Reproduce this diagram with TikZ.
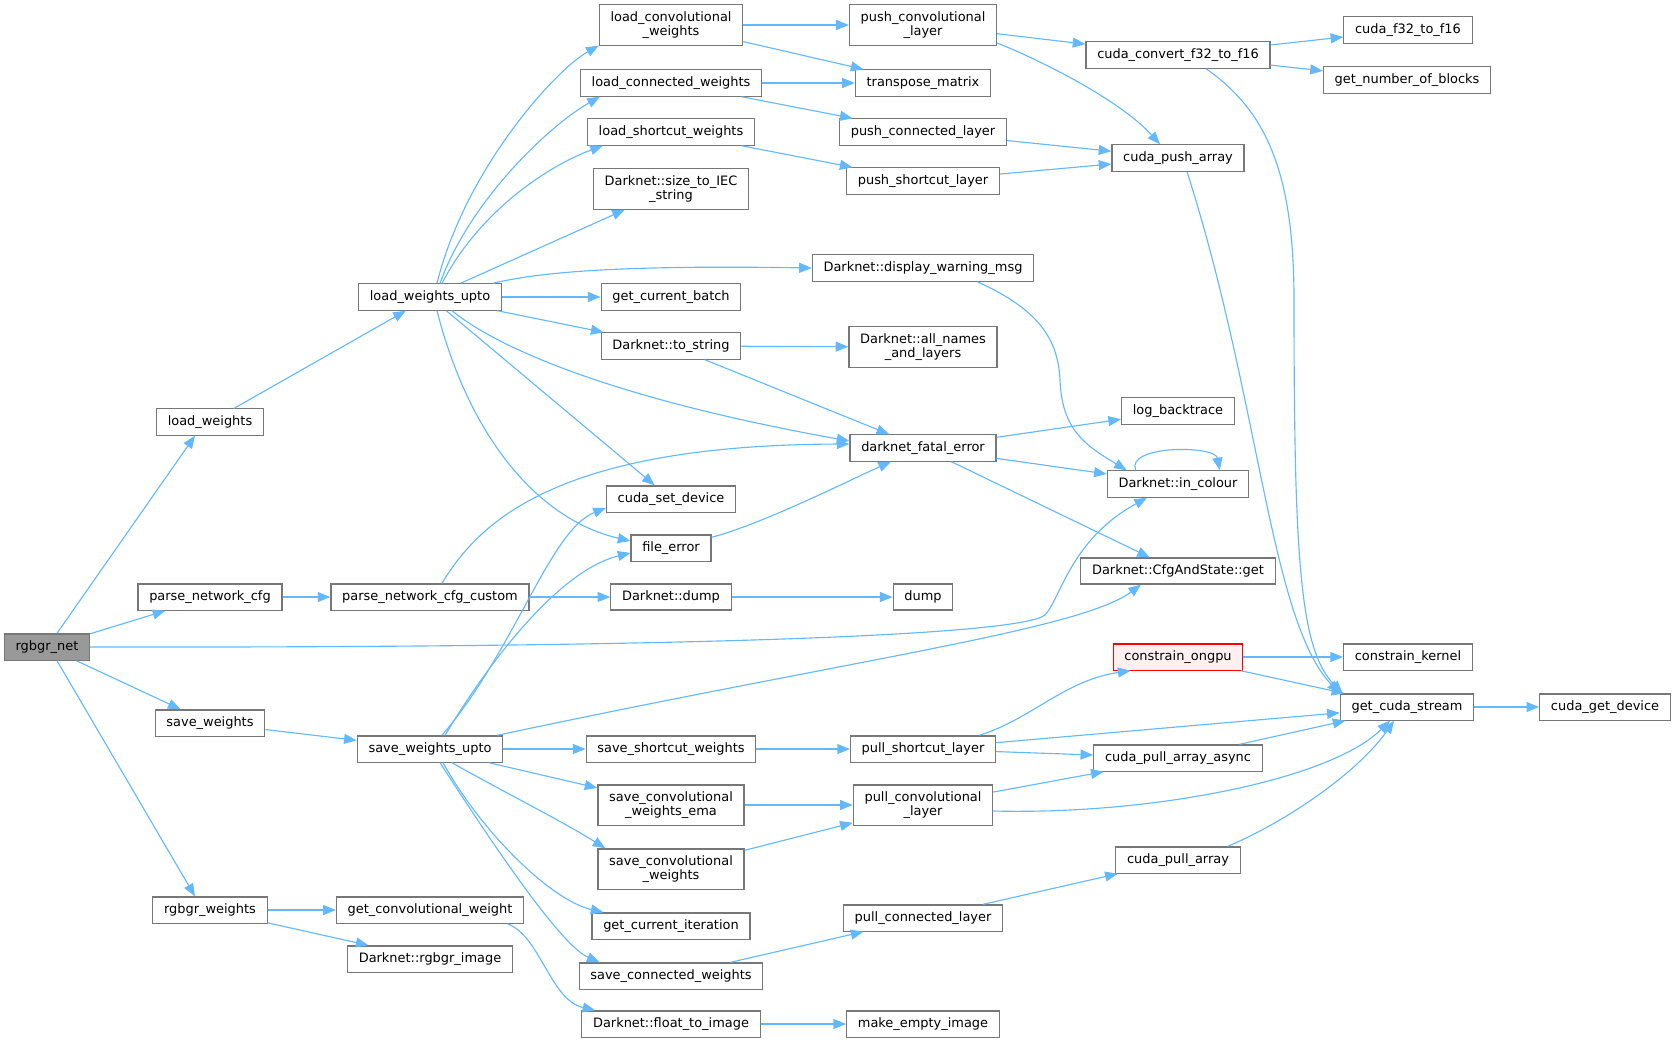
\documentclass[tikz,border=0pt]{standalone}
\usepackage{fontspec}
\setmainfont{DejaVu Sans}
\usepackage{tikz}
\usetikzlibrary{arrows.meta, calc}
\definecolor{edgeblue}{HTML}{63B8FF}
\definecolor{boxgray}{HTML}{777777}
\definecolor{rootgray}{HTML}{999999}
\definecolor{hotfill}{HTML}{FFF0F0}

\begin{document}
\begin{tikzpicture}[x=0.75pt, y=-0.75pt,
  fn/.style={draw=boxgray, line width=0.9pt, fill=white, rectangle, align=center,
    inner xsep=8.4pt, inner ysep=5pt, minimum height=19.5pt,
    font=\fontsize{9.7}{10.5}\selectfont},
  root/.style={fn, fill=rootgray},
  hot/.style={fn, draw=red, fill=hotfill},
  call/.style={draw=edgeblue, line width=0.85pt, -{Triangle[length=9.5pt,width=7.5pt]}}]
\useasboundingbox (0,0) rectangle (1676,1045);

% columns
\node[root] (net) at (47,647) {rgbgr\_net};
\node[fn] (lw) at (210,422) {load\_weights};
\node[fn] (pnc) at (210,597) {parse\_network\_cfg};
\node[fn] (sw) at (210,723) {save\_weights};
\node[fn] (rw) at (210,910) {rgbgr\_weights};
\node[fn] (lwu) at (430,297) {load\_weights\_upto};
\node[fn] (pncc) at (430,597) {parse\_network\_cfg\_custom};
\node[fn] (swu) at (430,749) {save\_weights\_upto};
\node[fn] (gcw) at (430,910) {get\_convolutional\_weight};
\node[fn] (rimg) at (430,959) {Darknet::rgbgr\_image};
\node[fn] (lcw) at (671,25) {load\_convolutional\\\_weights};
\node[fn] (lcnw) at (671,83) {load\_connected\_weights};
\node[fn] (lsw) at (671,132) {load\_shortcut\_weights};
\node[fn] (iec) at (671,189) {Darknet::size\_to\_IEC\\\_string};
\node[fn] (gcb) at (671,297) {get\_current\_batch};
\node[fn] (tostr) at (671,346) {Darknet::to\_string};
\node[fn] (csd) at (671,499) {cuda\_set\_device};
\node[fn] (ferr) at (671,548) {file\_error};
\node[fn] (ddump) at (671,597) {Darknet::dump};
\node[fn] (ssw) at (671,749) {save\_shortcut\_weights};
\node[fn] (scwe) at (671,805) {save\_convolutional\\\_weights\_ema};
\node[fn] (scw) at (671,869) {save\_convolutional\\\_weights};
\node[fn] (gci) at (671,926) {get\_current\_iteration};
\node[fn] (scnw) at (671,976) {save\_connected\_weights};
\node[fn] (f2i) at (671,1024) {Darknet::float\_to\_image};
\node[fn] (pcl) at (923,25) {push\_convolutional\\\_layer};
\node[fn] (tm) at (923,83) {transpose\_matrix};
\node[fn] (pcnl) at (923,132) {push\_connected\_layer};
\node[fn] (psl) at (923,181) {push\_shortcut\_layer};
\node[fn] (dwm) at (923,268) {Darknet::display\_warning\_msg};
\node[fn] (anl) at (923,347) {Darknet::all\_names\\\_and\_layers};
\node[fn] (dfe) at (923,448) {darknet\_fatal\_error};
\node[fn] (dump) at (923,597) {dump};
\node[fn] (pshl) at (923,749) {pull\_shortcut\_layer};
\node[fn] (pcvl) at (923,805) {pull\_convolutional\\\_layer};
\node[fn] (pcnnl) at (923,918) {pull\_connected\_layer};
\node[fn] (mei) at (923,1024) {make\_empty\_image};
\node[fn] (ccf) at (1178,55) {cuda\_convert\_f32\_to\_f16};
\node[fn] (cpa) at (1178,158) {cuda\_push\_array};
\node[fn] (lbt) at (1178,411) {log\_backtrace};
\node[fn] (inc) at (1178,484) {Darknet::in\_colour};
\node[fn] (cfg) at (1178,571) {Darknet::CfgAndState::get};
\node[hot] (cong) at (1178,657) {constrain\_ongpu};
\node[fn] (cpaa) at (1178,758) {cuda\_pull\_array\_async};
\node[fn] (cpla) at (1178,860) {cuda\_pull\_array};
\node[fn] (cf16) at (1408,30) {cuda\_f32\_to\_f16};
\node[fn] (gnb) at (1407,80) {get\_number\_of\_blocks};
\node[fn] (ck) at (1408,657) {constrain\_kernel};
\node[fn] (gcs) at (1407,707) {get\_cuda\_stream};
\node[fn] (cgd) at (1605,707) {cuda\_get\_device};

% calls from rgbgr_net
\draw[call] ($(net.north)+(10,0)$) -- ($(lw.south)+(-15,0)$);
\draw[call] (net) -- (pnc);
\draw[call] (net) -- (sw);
\draw[call] ($(net.south)+(10,0)$) -- ($(rw.north)+(-15,0)$);
\draw[call] (net.east) .. controls (700,648) and (1020,635) .. (1045,615)
  .. controls (1060,600) and (1070,540) .. ($(inc.south)+(-31,0)$);
\draw[call] (lw) -- (lwu);
\draw[call] (pnc) -- (pncc);
\draw[call] (sw) -- (swu);
\draw[call] (rw) -- (gcw);
\draw[call] (rw) -- (rimg);

% load_weights_upto
\draw[call] ($(lwu.north)+(7,0)$) .. controls (465,170) and (555,70) .. (lcw.south west);
\draw[call] ($(lwu.north)+(10,0)$) .. controls (470,200) and (550,125) .. ($(lcnw.south west)+(20,0)$);
\draw[call] ($(lwu.north)+(12,0)$) .. controls (480,210) and (550,165) .. ($(lsw.south west)+(16,0)$);
\draw[call] (lwu) -- (iec);
\draw[call] ($(lwu.north east)+(-9,0)$) .. controls (540,272) and (620,265) .. (dwm.west);
\draw[call] (lwu) -- (gcb);
\draw[call] (lwu) -- (tostr);
\draw[call] ($(lwu.south)+(22,0)$) .. controls (500,350) and (620,400) .. ($(dfe.west)+(0,-7)$);
\draw[call] (lwu) -- (csd);
\draw[call] ($(lwu.south)+(7,0)$) .. controls (470,440) and (540,520) .. ($(ferr.west)+(0,-7)$);

% parse_network_cfg_custom
\draw[call] ($(pncc.north)+(12,0)$) .. controls (480,520) and (560,445) .. ($(dfe.west)+(0,-4)$);
\draw[call] (pncc) -- (ddump);
\draw[call] (ddump) -- (dump);

% save_weights_upto
\draw[call] ($(swu.north)+(12,0)$) .. controls (515,650) and (550,530) .. ($(csd.west)+(0,9)$);
\draw[call] ($(swu.north)+(15,0)$) .. controls (490,660) and (560,570) .. ($(ferr.west)+(0,5)$);
\draw[call] ($(swu.north east)+(-6,0)$) .. controls (850,660) and (1080,630) .. ($(cfg.south)+(-37,0)$);
\draw[call] (swu) -- (ssw);
\draw[call] (swu) -- (scwe);
\draw[call] ($(swu.south)+(22,0)$) .. controls (500,790) and (560,820) .. ($(scw.north west)+(8,0)$);
\draw[call] ($(swu.south)+(13,0)$) .. controls (480,830) and (550,900) .. ($(gci.north west)+(12,0)$);
\draw[call] ($(swu.south)+(10,0)$) .. controls (490,840) and (560,945) .. ($(scnw.north west)+(21,0)$);
\draw[call] ($(gcw.south east)+(-17,0)$) .. controls (540,935) and (550,1000) .. ($(f2i.north west)+(14,0)$);

% middle columns
\draw[call] (lcw) -- (pcl);
\draw[call] (lcw) -- (tm);
\draw[call] (lcnw) -- (tm);
\draw[call] (lcnw) -- (pcnl);
\draw[call] (lsw) -- (psl);
\draw[call] (tostr) -- (anl);
\draw[call] (tostr) -- (dfe);
\draw[call] ($(ferr.north east)+(0,3)$) .. controls (760,525) and (850,480) .. ($(dfe.south)+(-32,0)$);
\draw[call] (ssw) -- (pshl);
\draw[call] (scwe) -- (pcvl);
\draw[call] (scw) -- (pcvl);
\draw[call] (scnw) -- (pcnnl);
\draw[call] (f2i) -- (mei);
\draw[call] (pcl) -- (ccf);
\draw[call] ($(pcl.east)+(0,18)$) .. controls (1040,60) and (1120,100) .. ($(cpa.north)+(-18,0)$);
\draw[call] (pcnl) -- (cpa);
\draw[call] (psl) -- (cpa);
\draw[call] ($(dwm.south east)+(-57,0)$) .. controls (1040,310) and (1058,340) .. (1060,380)
  .. controls (1062,430) and (1085,445) .. ($(inc.north west)+(20,0)$);
\draw[call] (dfe) -- (lbt);
\draw[call] (dfe) -- (inc);
\draw[call] (dfe) -- (cfg);
\draw[call] ($(pshl.north east)+(-17,0)$) .. controls (1030,720) and (1065,680) .. ($(cong.south west)+(18,0)$);
\draw[call] (pshl) -- (gcs);
\draw[call] (pshl) -- (cpaa);
\draw[call] (pcvl) -- (cpaa);
\draw[call] ($(pcvl.east)+(0,6)$) .. controls (1150,815) and (1330,780) .. ($(gcs.south)+(-17,0)$);
\draw[call] (pcnnl) -- (cpla);

% right columns
\draw[call] (ccf) -- (cf16);
\draw[call] (ccf) -- (gnb);
\draw[call] ($(ccf.south)+(28,0)$) .. controls (1265,110) and (1294,170) .. (1294,300)
  .. controls (1294,560) and (1300,650) .. ($(gcs.north west)+(3,0)$);
\draw[call] ($(cpa.south)+(9,0)$) .. controls (1260,400) and (1270,620) .. (gcs.north west);
\draw[call] ($(inc.north west)+(29,0)$) .. controls (1125,445) and (1215,445) .. ($(inc.north west)+(113,0)$);
\draw[call] (cong) -- (ck);
\draw[call] (cong) -- (gcs);
\draw[call] (cpaa) -- (gcs);
\draw[call] ($(cpla.north east)+(-13,0)$) .. controls (1290,820) and (1360,770) .. ($(gcs.south)+(-13,0)$);
\draw[call] (gcs) -- (cgd);
\end{tikzpicture}
\end{document}
